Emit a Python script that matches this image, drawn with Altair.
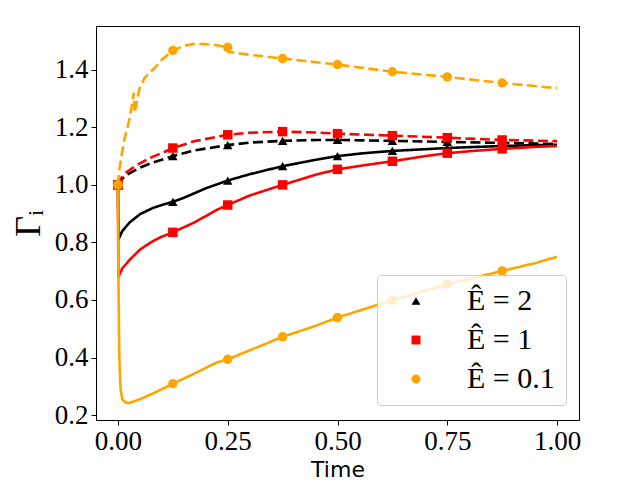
import altair as alt
import pandas as pd

labels = ["Ê = 2", "Ê = 1", "Ê = 0.1"]
colors = ["#000000", "#ff0000", "#ffa500"]
marker_t = [0.0, 0.125, 0.25, 0.375, 0.5, 0.625, 0.75, 0.875]

# E = 2, solid
t_k_s = [0.0, 0.001, 0.01, 0.027, 0.05, 0.08, 0.1, 0.125, 0.15, 0.2, 0.25, 0.3, 0.375, 0.45, 0.5, 0.56, 0.625, 0.7, 0.75, 0.8, 0.875, 0.95, 1.0]
g_k_s = [1.0, 0.81, 0.84, 0.87, 0.898, 0.92, 0.93, 0.941, 0.955, 0.988, 1.015, 1.037, 1.065, 1.087, 1.1, 1.11, 1.118, 1.124, 1.128, 1.131, 1.135, 1.138, 1.139]
# E = 2, dashed
t_k_d = [0.0, 0.005, 0.02, 0.05, 0.08, 0.1, 0.125, 0.175, 0.25, 0.3, 0.375, 0.45, 0.5, 0.625, 0.75, 0.875, 1.0]
g_k_d = [1.0, 1.015, 1.035, 1.06, 1.078, 1.087, 1.1, 1.12, 1.138, 1.147, 1.153, 1.156, 1.156, 1.153, 1.149, 1.146, 1.142]
# E = 1, solid
t_r_s = [0.0, 0.001, 0.01, 0.027, 0.05, 0.08, 0.1, 0.125, 0.175, 0.225, 0.25, 0.3, 0.375, 0.45, 0.5, 0.56, 0.625, 0.7, 0.75, 0.8, 0.875, 0.95, 1.0]
g_r_s = [1.0, 0.68, 0.71, 0.74, 0.775, 0.805, 0.82, 0.835, 0.87, 0.913, 0.93, 0.963, 1.0, 1.035, 1.054, 1.068, 1.082, 1.1, 1.11, 1.117, 1.125, 1.132, 1.135]
# E = 1, dashed
t_r_d = [0.0, 0.005, 0.02, 0.05, 0.08, 0.1, 0.125, 0.175, 0.25, 0.3, 0.375, 0.45, 0.5, 0.625, 0.75, 0.875, 1.0]
g_r_d = [1.0, 1.02, 1.045, 1.075, 1.098, 1.11, 1.128, 1.152, 1.174, 1.181, 1.185, 1.182, 1.178, 1.171, 1.164, 1.156, 1.152]
# E = 0.1, solid
t_o_s = [0.0, 0.001, 0.003, 0.006, 0.01, 0.018, 0.025, 0.05, 0.075, 0.1, 0.125, 0.175, 0.225, 0.25, 0.3, 0.375, 0.45, 0.5, 0.56, 0.625, 0.7, 0.75, 0.8, 0.875, 0.95, 1.0]
g_o_s = [1.0, 0.7, 0.4, 0.29, 0.255, 0.243, 0.242, 0.255, 0.272, 0.29, 0.309, 0.345, 0.383, 0.394, 0.425, 0.472, 0.51, 0.539, 0.568, 0.599, 0.632, 0.655, 0.673, 0.701, 0.728, 0.75]
# E = 0.1, dashed
t_o_d = [0.0, 0.003, 0.008, 0.015, 0.025, 0.03, 0.036, 0.038, 0.042, 0.048, 0.06, 0.086, 0.1, 0.125, 0.15, 0.175, 0.2, 0.225, 0.25, 0.252, 0.3, 0.375, 0.5, 0.625, 0.75, 0.875, 1.0]
g_o_d = [1.0, 1.05, 1.1, 1.16, 1.22, 1.26, 1.32, 1.25, 1.28, 1.33, 1.37, 1.41, 1.435, 1.467, 1.483, 1.49, 1.489, 1.485, 1.478, 1.462, 1.452, 1.439, 1.418, 1.393, 1.375, 1.354, 1.336]

series = [
    (labels[0], "solid", t_k_s, g_k_s),
    (labels[0], "dashed", t_k_d, g_k_d),
    (labels[1], "solid", t_r_s, g_r_s),
    (labels[1], "dashed", t_r_d, g_r_d),
    (labels[2], "solid", t_o_s, g_o_s),
    (labels[2], "dashed", t_o_d, g_o_d),
]

rows = []
for i, (lab, sty, ts, gs) in enumerate(series):
    for t, g in zip(ts, gs):
        rows.append({"E": lab, "style": sty, "series": i, "t": t, "g": g,
                     "marker": t in marker_t})
df = pd.DataFrame(rows)
pts = df[df["marker"]]

xscale = alt.Scale(domain=[-0.05, 1.05], nice=False, zero=False)
yscale = alt.Scale(domain=[0.183, 1.552], nice=False, zero=False)
cscale = alt.Scale(domain=labels, range=colors)

xaxis = alt.Axis(values=[0, 0.25, 0.5, 0.75, 1.0], format=".2f", title="Time",
                 grid=False, titleFont="DejaVu Sans", titleFontSize=22,
                 titleFontWeight="normal", titleY=56, titleBaseline="alphabetic")
yaxis = alt.Axis(values=[0.2, 0.4, 0.6, 0.8, 1.0, 1.2, 1.4], format=".1f",
                 title="Γᵢ", grid=False, titleFont="Liberation Serif",
                 titleFontSize=36, titleFontWeight="normal", titleX=-68,
                 titleY=197, titleAlign="center", titleBaseline="middle",
                 titleAngle=270)

lines = alt.Chart(df).mark_line(strokeWidth=2.6).encode(
    x=alt.X("t:Q", scale=xscale, axis=xaxis),
    y=alt.Y("g:Q", scale=yscale, axis=yaxis),
    color=alt.Color("E:N", scale=cscale, legend=None),
    strokeDash=alt.StrokeDash("style:N", scale=alt.Scale(domain=["solid", "dashed"], range=[[1, 0], [10, 4.5]]), legend=None),
    detail="series:N",
    order="t:Q",
)

points = alt.Chart(pts).mark_point(filled=True, size=90, opacity=1).encode(
    x=alt.X("t:Q", scale=xscale),
    y=alt.Y("g:Q", scale=yscale),
    color=alt.Color("E:N", scale=cscale, title=None),
    shape=alt.Shape("E:N", scale=alt.Scale(domain=labels, range=["triangle-up", "square", "circle"]), title=None),
)

chart = alt.layer(lines, points).resolve_legend(
    color="independent", shape="independent"
).properties(
    width=483, height=394,
    autosize=alt.AutoSizeParams(type="none"),
    padding={"left": 88, "top": 18, "right": 53, "bottom": 60},
).configure_view(
    stroke="black", strokeWidth=1
).configure_axis(
    labelFont="Liberation Serif", labelFontSize=27, labelColor="black",
    domainColor="black", tickColor="black", tickSize=5, labelPadding=3,
    domainWidth=1, tickWidth=1,
).configure_legend(
    orient="none", legendX=281, legendY=249,
    labelFont="Liberation Serif", labelFontSize=30, labelColor="black",
    symbolSize=80, symbolOffset=13, labelOffset=36, rowPadding=9,
    padding=11, fillColor="rgba(255,255,255,0.8)", strokeColor="#cccccc",
    cornerRadius=4, symbolStrokeWidth=0,
)

chart.save("out.html", embed_options={"renderer": "svg", "actions": False})
